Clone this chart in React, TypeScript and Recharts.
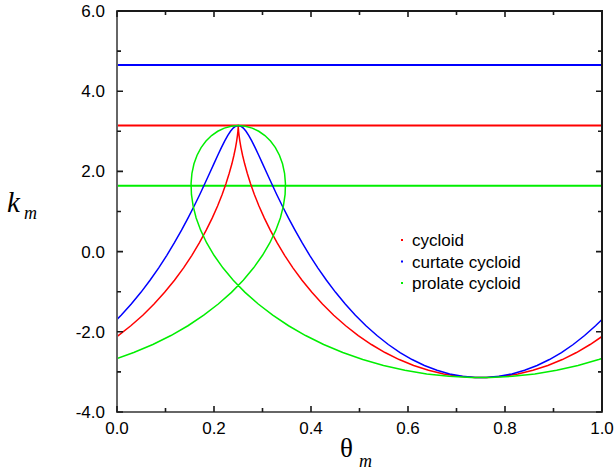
import { Line, LineChart, ReferenceLine, XAxis, YAxis } from "recharts";

// points, [theta_m, k_m]
const cycloid: [number, number][] = [
  [0.0, -2.117], [0.0026, -2.093], [0.0285, -1.849], [0.0532, -1.586], [0.0764, -1.307],
  [0.0982, -1.016], [0.1185, -0.714], [0.1373, -0.405], [0.1544, -0.092], [0.17, 0.222],
  [0.184, 0.534], [0.1965, 0.84], [0.2074, 1.138], [0.2168, 1.425], [0.2248, 1.697],
  [0.2314, 1.953], [0.2369, 2.189], [0.2411, 2.403], [0.2444, 2.593], [0.2467, 2.757],
  [0.2483, 2.894], [0.2493, 3.001], [0.2498, 3.079], [0.25, 3.126], [0.25, 3.142],
  [0.25, 3.126], [0.2502, 3.079], [0.2507, 3.001], [0.2517, 2.894], [0.2533, 2.757],
  [0.2556, 2.593], [0.2589, 2.403], [0.2632, 2.189], [0.2686, 1.953], [0.2752, 1.697],
  [0.2832, 1.425], [0.2927, 1.138], [0.3036, 0.84], [0.316, 0.534], [0.33, 0.222],
  [0.3456, -0.092], [0.3627, -0.405], [0.3815, -0.714], [0.4018, -1.016], [0.4236, -1.307],
  [0.4468, -1.586], [0.4715, -1.849], [0.4974, -2.093], [0.5245, -2.317], [0.5526, -2.517],
  [0.5818, -2.692], [0.6117, -2.84], [0.6423, -2.96], [0.6735, -3.05], [0.705, -3.11],
  [0.7368, -3.139], [0.75, -3.142], [0.7632, -3.139], [0.795, -3.11], [0.8265, -3.05],
  [0.8577, -2.96], [0.8883, -2.84], [0.9182, -2.692], [0.9474, -2.517], [0.9755, -2.317],
  [1.0, -2.117],
];

const curtate: [number, number][] = [
  [0.0, -1.692], [0.0085, -1.586], [0.0294, -1.307], [0.0493, -1.016], [0.0681, -0.714],
  [0.086, -0.405], [0.1027, -0.092], [0.1184, 0.222], [0.1331, 0.534], [0.1466, 0.84],
  [0.1591, 1.138], [0.1707, 1.425], [0.1812, 1.697], [0.1909, 1.953], [0.1997, 2.189],
  [0.2078, 2.403], [0.2152, 2.593], [0.2219, 2.757], [0.2282, 2.894], [0.234, 3.001],
  [0.2395, 3.079], [0.2448, 3.126], [0.25, 3.142], [0.2552, 3.126], [0.2605, 3.079],
  [0.266, 3.001], [0.2718, 2.894], [0.2781, 2.757], [0.2848, 2.593], [0.2922, 2.403],
  [0.3003, 2.189], [0.3091, 1.953], [0.3188, 1.697], [0.3293, 1.425], [0.3409, 1.138],
  [0.3534, 0.84], [0.367, 0.534], [0.3816, 0.222], [0.3973, -0.092], [0.414, -0.405],
  [0.4319, -0.714], [0.4507, -1.016], [0.4706, -1.307], [0.4915, -1.586], [0.5133, -1.849],
  [0.536, -2.093], [0.5594, -2.317], [0.5836, -2.517], [0.6084, -2.692], [0.6338, -2.84],
  [0.6597, -2.96], [0.6859, -3.05], [0.7123, -3.11], [0.7389, -3.139], [0.75, -3.142],
  [0.7611, -3.139], [0.7877, -3.11], [0.8142, -3.05], [0.8404, -2.96], [0.8662, -2.84],
  [0.8916, -2.692], [0.9164, -2.517], [0.9406, -2.317], [0.9641, -2.093], [0.9867, -1.849],
  [1.0, -1.692],
];

const prolate: [number, number][] = [
  [0.0, -2.665], [0.0345, -2.517], [0.0739, -2.317], [0.1112, -2.093], [0.1463, -1.849],
  [0.1789, -1.586], [0.2088, -1.307], [0.236, -1.016], [0.2603, -0.714], [0.2817, -0.405],
  [0.3, -0.092], [0.3153, 0.222], [0.3275, 0.534], [0.3368, 0.84], [0.3431, 1.138],
  [0.3466, 1.425], [0.3473, 1.697], [0.3455, 1.953], [0.3413, 2.189], [0.3349, 2.403],
  [0.3266, 2.593], [0.3165, 2.757], [0.305, 2.894], [0.2923, 3.001], [0.2787, 3.079],
  [0.2645, 3.126], [0.25, 3.142], [0.2355, 3.126], [0.2213, 3.079], [0.2077, 3.001],
  [0.195, 2.894], [0.1835, 2.757], [0.1734, 2.593], [0.1651, 2.403], [0.1587, 2.189],
  [0.1545, 1.953], [0.1527, 1.697], [0.1535, 1.425], [0.1569, 1.138], [0.1632, 0.84],
  [0.1725, 0.534], [0.1847, 0.222], [0.2, -0.092], [0.2183, -0.405], [0.2397, -0.714],
  [0.264, -1.016], [0.2912, -1.307], [0.3211, -1.586], [0.3537, -1.849], [0.3888, -2.093],
  [0.4261, -2.317], [0.4655, -2.517], [0.5067, -2.692], [0.5495, -2.84], [0.5935, -2.96],
  [0.6386, -3.05], [0.6845, -3.11], [0.7307, -3.139], [0.75, -3.142], [0.7693, -3.139],
  [0.8155, -3.11], [0.8614, -3.05], [0.9065, -2.96], [0.9505, -2.84], [0.9933, -2.692],
  [1.0, -2.665],
];

// horizontal levels
const levels = [
  { y: 4.654, color: "#0000ff" },
  { y: 3.1416, color: "#ff0000" },
  { y: 1.6405, color: "#00ee00" },
];

const series = [
  { name: "cycloid", color: "#ff0000", pts: cycloid },
  { name: "curtate cycloid", color: "#0000ff", pts: curtate },
  { name: "prolate cycloid", color: "#00ee00", pts: prolate },
];

const X_MIN = 0;
const X_MAX = 1;
const Y_MIN = -4;
const Y_MAX = 6;
const xTicks = [0, 0.1, 0.2, 0.3, 0.4, 0.5, 0.6, 0.7, 0.8, 0.9, 1.0];
const yTicks = [-4, -3, -2, -1, 0, 1, 2, 3, 4, 5, 6];

// plot box in px (chart margins below produce exactly this box)
const L = 117;
const T = 11;
const R = 602;
const B = 412;
const sx = (v: number) => L + ((v - X_MIN) / (X_MAX - X_MIN)) * (R - L);
const sy = (v: number) => B - ((v - Y_MIN) / (Y_MAX - Y_MIN)) * (B - T);

const SANS = "'Liberation Sans', Arial, sans-serif";
const SERIF = "'Liberation Serif', 'Times New Roman', serif";

const isMajorX = (v: number) => Math.abs(v * 5 - Math.round(v * 5)) < 1e-6;
const isMajorY = (v: number) => Math.abs(v / 2 - Math.round(v / 2)) < 1e-6;

function BottomLabel(props: any) {
  const { x, y, payload } = props;
  if (!isMajorX(payload.value)) return <g />;
  return (
    <text x={x} y={y + 22} textAnchor="middle" fontSize={17} fontFamily={SANS} fill="#000">
      {payload.value.toFixed(1)}
    </text>
  );
}

function LeftLabel(props: any) {
  const { x, y, payload } = props;
  if (!isMajorY(payload.value)) return <g />;
  return (
    <text x={x - 12} y={y + 6} textAnchor="end" fontSize={17} fontFamily={SANS} fill="#000">
      {payload.value.toFixed(1)}
    </text>
  );
}

function Frame() {
  const tickPath: string[] = [];
  xTicks.forEach((v) => {
    const len = isMajorX(v) ? 6 : 4;
    tickPath.push(`M${sx(v)} ${B}v${-len}M${sx(v)} ${T}v${len}`);
  });
  yTicks.forEach((v) => {
    const len = isMajorY(v) ? 6 : 4;
    tickPath.push(`M${L} ${sy(v)}h${len}M${R} ${sy(v)}h${-len}`);
  });
  return (
    <svg
      width={616}
      height={473}
      style={{ position: "absolute", left: 0, top: 0, pointerEvents: "none", zIndex: 2 }}
    >
      <rect x={L} y={T} width={R - L} height={B - T} fill="none" stroke="#1a1a1a" strokeWidth={2} />
      <path d={`M${L} ${T - 1}V${B}H${R + 1}`} fill="none" stroke="#666" strokeWidth={2} />
      <path d={tickPath.join("")} fill="none" stroke="#1a1a1a" strokeWidth={1.6} />
    </svg>
  );
}

export default function App() {
  if (typeof document !== "undefined") document.body.style.margin = "0";

  return (
    <div style={{ position: "relative", width: 616, height: 473, background: "#fff" }}>
      <LineChart
        width={616}
        height={473}
        margin={{ top: T, right: 616 - R, bottom: 0, left: 0 }}
      >
        <XAxis
          type="number"
          dataKey="x"
          domain={[X_MIN, X_MAX]}
          ticks={xTicks}
          interval={0}
          height={473 - B}
          tickSize={0}
          tickMargin={0}
          tickLine={false}
          tick={BottomLabel}
          axisLine={false}
          allowDataOverflow
        />
        <YAxis
          type="number"
          domain={[Y_MIN, Y_MAX]}
          ticks={yTicks}
          interval={0}
          width={L}
          tickSize={0}
          tickMargin={0}
          tickLine={false}
          tick={LeftLabel}
          axisLine={false}
          allowDataOverflow
        />
        {levels.map((l) => (
          <ReferenceLine key={l.y} y={l.y} stroke={l.color} strokeWidth={2} />
        ))}
        {series.map((s) => (
          <Line
            key={s.name}
            data={s.pts.map(([x, y]) => ({ x, y }))}
            dataKey="y"
            type="linear"
            stroke={s.color}
            strokeWidth={1.5}
            dot={false}
            activeDot={false}
            isAnimationActive={false}
          />
        ))}
      </LineChart>

      <Frame />

      <svg
        width={616}
        height={473}
        style={{ position: "absolute", left: 0, top: 0, pointerEvents: "none", zIndex: 3 }}
      >
        {series.map((s, i) => (
          <g key={s.name}>
            <rect x={401} y={239 + i * 21.5} width={2} height={2} fill={s.color} />
            <text x={412} y={246 + i * 21.5} fontSize={17} fontFamily={SANS} fill="#000">
              {s.name}
            </text>
          </g>
        ))}
        <text x={7} y={212} fontFamily={SERIF} fontStyle="italic" fontSize={29} fill="#000">
          k
        </text>
        <text x={24} y={219} fontFamily={SERIF} fontStyle="italic" fontSize={18} fill="#000">
          m
        </text>
        <text x={340} y={457} fontFamily={SERIF} fontSize={27} fill="#000">
          θ
        </text>
        <text x={359} y={467} fontFamily={SERIF} fontStyle="italic" fontSize={18} fill="#000">
          m
        </text>
      </svg>
    </div>
  );
}
